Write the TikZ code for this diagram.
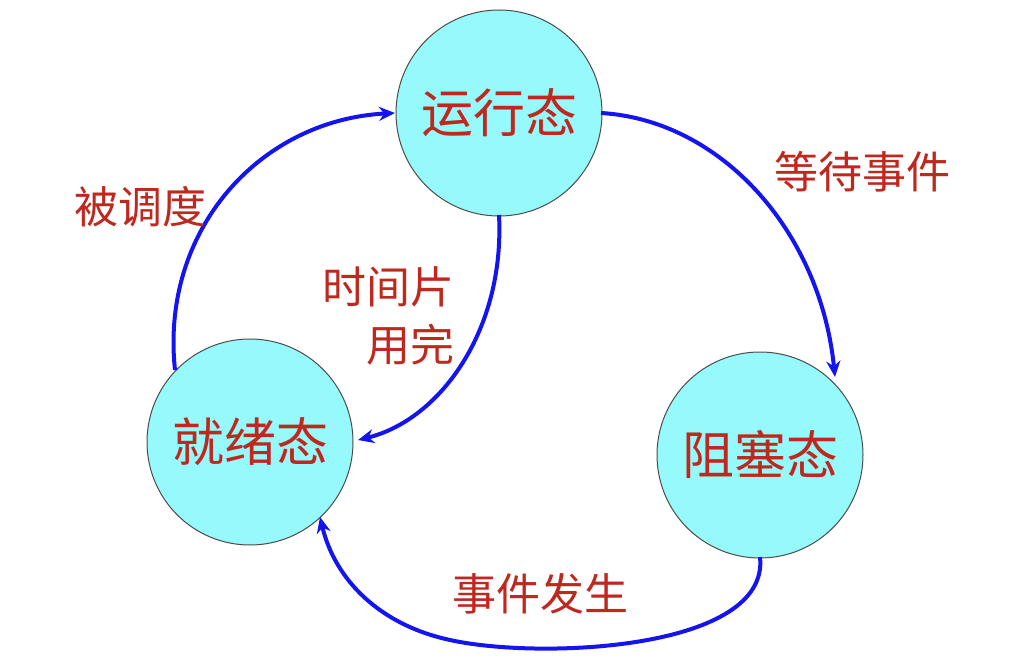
\documentclass[tikz,border=0pt]{standalone}
\usepackage{fontspec}
\newfontfamily\cjk{Noto Sans CJK SC}
\usetikzlibrary{arrows.meta}
\definecolor{fillc}{RGB}{150,250,252}
\definecolor{txtc}{RGB}{190,40,30}
\definecolor{arr}{RGB}{20,20,240}
\begin{document}
\begin{tikzpicture}[x=1pt,y=-1pt,
 st/.style={circle,draw=black!70,line width=1pt,fill=fillc,minimum size=206pt,inner sep=0pt,font=\cjk\fontsize{52}{60}\selectfont,text=txtc},
 lab/.style={font=\cjk\fontsize{44}{58}\selectfont,text=txtc,align=center},
 ar/.style={draw=arr,line width=4pt,-{Stealth[length=16pt,width=14pt]}}]
\useasboundingbox (0,0) rectangle (1028,668);
\node[st] (run) at (499,113) {运行态};
\node[st] (rdy) at (250,442) {就绪态};
\node[st] (blk) at (760,455) {阻塞态};
\coordinate (a1) at (175,370);
\coordinate (a2) at (395,113);
\draw[ar] (a1) .. controls (160,230) and (260,120) .. (a2);
\coordinate (b1) at (601,113);
\coordinate (b2) at (835,377);
\draw[ar] (b1) .. controls (720,120) and (820,230) .. (b2);
\coordinate (c1) at (499,215);
\coordinate (c2) at (358,440);
\draw[ar] (c1) .. controls (505,330) and (440,420) .. (c2);
\coordinate (d1) at (760,557);
\coordinate (d2) at (320,517);
\draw[ar] (d1) .. controls (770,650) and (540,660) .. (450,640) .. controls (380,625) and (335,580) .. (d2);
\node[lab] (l1) at (140,207) {被调度};
\node[lab] (l2) at (862,172) {等待事件};
\node[lab,align=right,anchor=east] (l3) at (458,316) {时间片\\用完};
\node[lab] (l4) at (540,594) {事件发生};
\end{tikzpicture}
\end{document}
